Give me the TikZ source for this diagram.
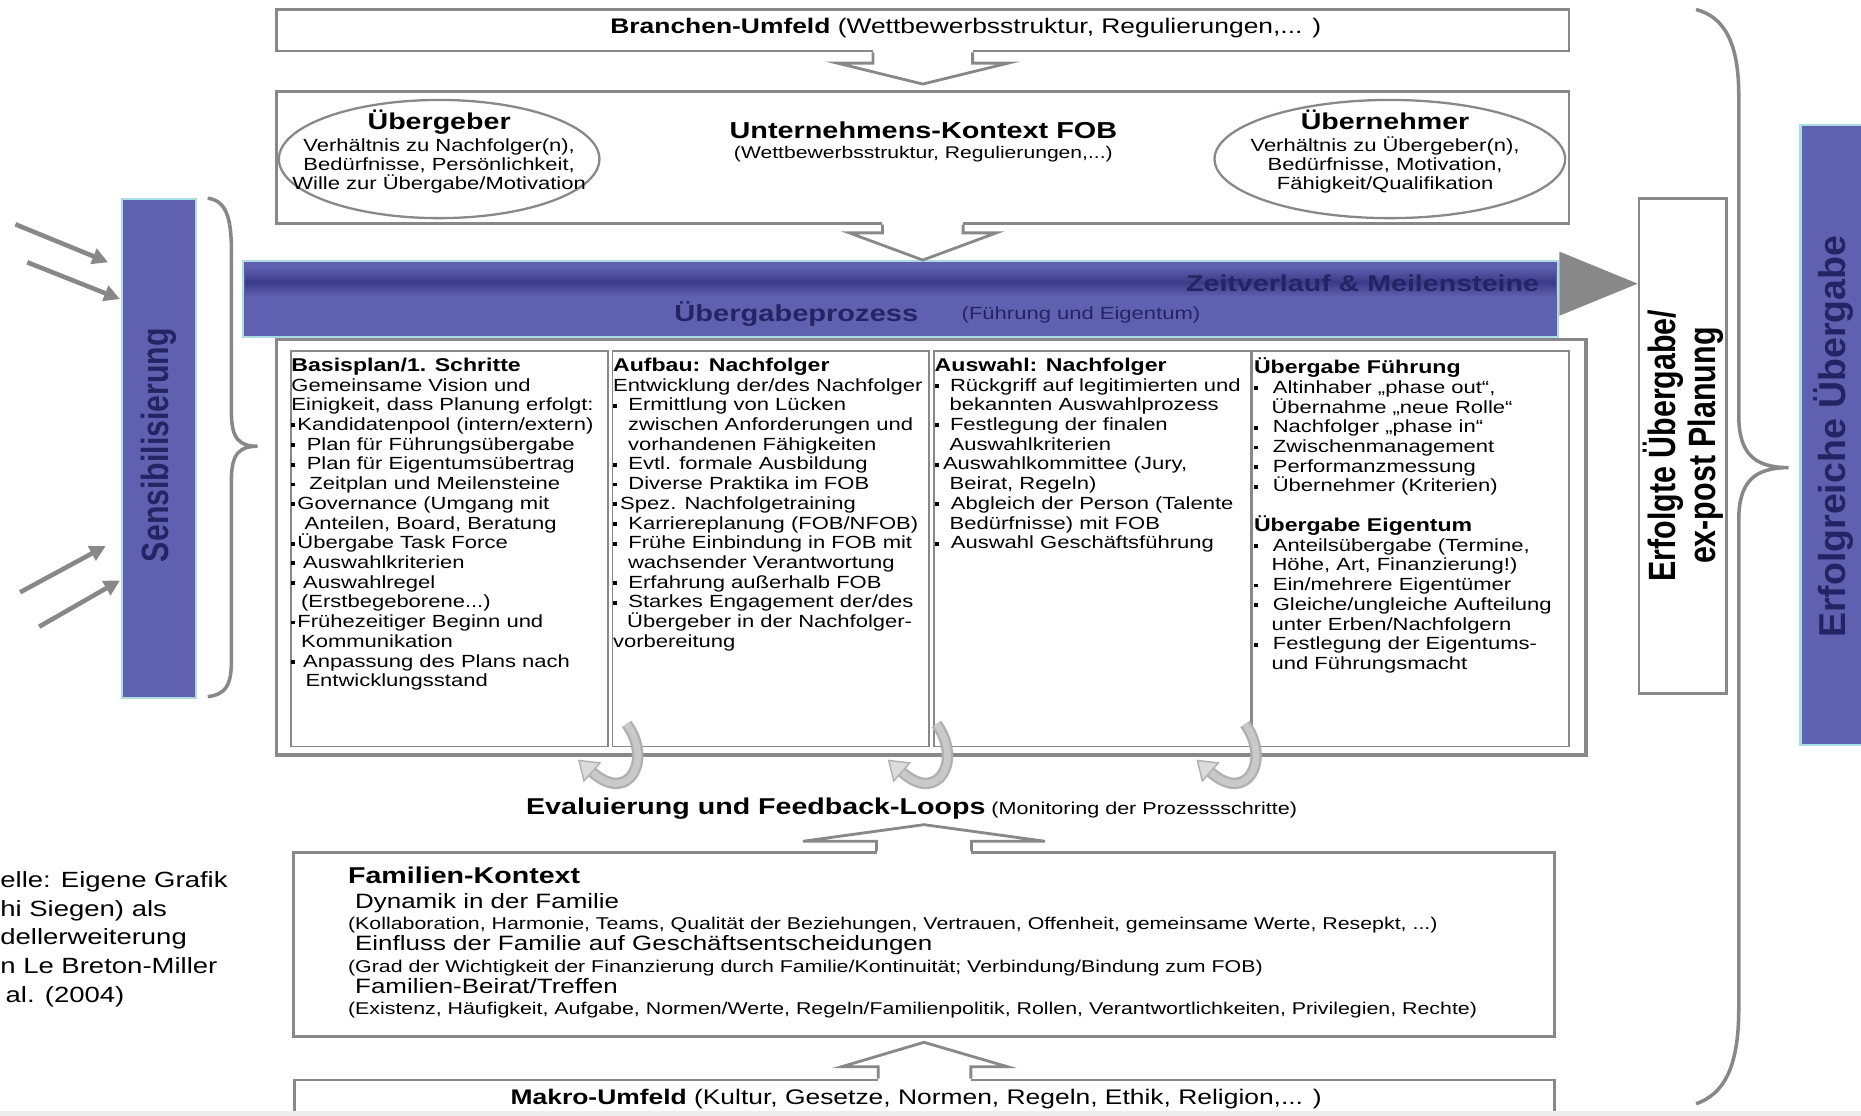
\documentclass[tikz,border=0pt]{standalone}
\usepackage{fontspec}
\setmainfont{Liberation Sans}
\newfontfamily\wide[FakeStretch=1.25]{Liberation Sans}
\newfontfamily\tall[FakeStretch=0.8]{Liberation Sans}
\usetikzlibrary{arrows.meta,calc,fit,shapes.geometric}

\definecolor{linegray}{RGB}{136,136,136}
\definecolor{barblue}{RGB}{96,96,176}
\definecolor{bandblue}{RGB}{58,58,136}
\definecolor{barrim}{RGB}{170,220,226}
\definecolor{navy}{RGB}{36,36,100}

\newcommand\fsz[2]{\fontsize{#1}{#2}\selectfont}
\newcommand\coltitle[1]{{\bfseries\fsz{10.5}{11.2}#1}}
\newcommand\blt[1]{\rule[1.8pt]{2.2pt}{2.2pt}\hspace{#1}}
\newcommand\indt[1]{\hspace*{#1}}
\newcommand\blockarrow[5]{%
  \fill[white] ($(#1)+(-#3,-3)$) rectangle ($(#1)+(#3,3)$);
  \draw[boxline,line join=miter] ($(#1)+(-#3,0)$) -- ++(0,#5) -- ++(#3-#4,0) -- (#2)
    -- ($(#1)+(#4,#5)$) -- ++(#3-#4,0) -- ($(#1)+(#3,0)$);}

\begin{document}
\begin{tikzpicture}[x=0.0237cm,y=-0.0237cm,
  boxline/.style={draw=linegray,line width=1.6pt},
  box/.style={boxline,inner sep=0pt},
  colbox/.style={draw=linegray,line width=1pt,inner sep=0pt},
  coltext/.style={anchor=north west,inner sep=0pt,align=left,font=\wide\fsz{10}{11.2}},
  bluebar/.style={fill=barblue,draw=barrim,line width=1.2pt,inner sep=0pt},
  inarrow/.style={draw=linegray,line width=2.6pt,-{Triangle[length=9pt,width=9pt]}},
  bracket/.style={draw=linegray,line width=2pt},
  loopout/.style={draw=gray!62,line width=6.5pt,-{Triangle[length=11pt,width=15pt,fill=gray!28,line width=.8pt]}},
  loopin/.style={draw=gray!42,line width=3.8pt,shorten >=11pt},
  txt/.style={inner sep=0pt}]
\useasboundingbox (0,0) rectangle (1568,940);

\node[box,fit={(233,8) (1322,43)}] (branchen) {};
\node[box,fit={(233,77) (1322,188)}] (kontext) {};
\node[box,fit={(247,718) (1310,873)}] (familie) {};
\node[box,fit={(248,910) (1310,960)}] (makro) {};
\node[box,fit={(1381,167) (1455,584)}] (erfolgt) {};
\node[draw=linegray,line width=2.2pt,inner sep=0pt,fit={(233,286) (1336,636)}] (frame) {};
\foreach \i/\x in {1/245,2/516,3/787,4/1055}
  \node[colbox,fit={(\x,296) (\x+267,629)}] (col\i) {};

\node[bluebar,fit={(103,168) (165,588)}] (sensib) {};
\node[bluebar,fit={(1517,105) (1580,628)}] (erfolgreich) {};
\node[bluebar,fit={(205,220) (1313,284)}] (prozess) {};
\shade[top color=barblue,bottom color=barblue,middle color=bandblue] (207,225) rectangle (1311,250);
\fill[linegray] (prozess.east |- 0,212) -- (erfolgt.west |- 0,239) -- (prozess.east |- 0,266) -- cycle;

\node[ellipse,boxline,line width=1.3pt,minimum width=6.4cm,minimum height=2.36cm,inner sep=0pt] (geber) at (370,134) {};
\node[ellipse,boxline,line width=1.3pt,minimum width=7.0cm,minimum height=2.36cm,inner sep=0pt] (nehmer) at (1171,134) {};

\node[txt,anchor=west,font=\wide\fsz{12}{14}] (branchentxt) at (514,24) {\textbf{Branchen-Umfeld} (Wettbewerbsstruktur, Regulierungen,... )};
\node[txt,font=\wide\bfseries\fsz{13.1}{15}] (kontexttxt) at (778,110) {Unternehmens-Kontext FOB};
\node[txt,font=\wide\fsz{9.6}{11}] (kontextsub) at (778,130) {(Wettbewerbsstruktur, Regulierungen,...)};
\node[txt,anchor=north,align=center,font=\wide\fsz{10}{11}] (gebertxt) at (370,92)
  {{\bfseries\fsz{13}{14}Übergeber}\\[1.5pt]Verhältnis zu Nachfolger(n),\\Bedürfnisse, Persönlichkeit,\\Wille zur Übergabe/Motivation};
\node[txt,anchor=north,align=center,font=\wide\fsz{10}{11}] (nehmertxt) at (1167,92)
  {{\bfseries\fsz{13}{14}Übernehmer}\\[1.5pt]Verhältnis zu Übergeber(n),\\Bedürfnisse, Motivation,\\Fähigkeit/Qualifikation};

\node[txt,anchor=east,font=\wide\bfseries\fsz{13}{15},text=navy] (zeittxt) at (1297,239) {Zeitverlauf \& Meilensteine};
\node[txt,anchor=west,font=\wide\bfseries\fsz{13.2}{15},text=navy] (prozesstxt) at (568,265) {Übergabeprozess};
\node[txt,anchor=west,font=\wide\fsz{10}{12},text=navy] (prozesssub) at (810,265) {(Führung und Eigentum)};

\node[txt,rotate=90,font=\tall\bfseries\fsz{21.5}{24},text=navy] (sensibtxt) at (134,375) {Sensibilisierung};
\node[txt,rotate=90,font=\bfseries\fsz{21.3}{24},text=navy] (erfolgreichtxt) at (1545,368) {Erfolgreiche Übergabe};
\node[txt,rotate=90,align=center,font=\tall\bfseries\fsz{21.6}{22.5}] (erfolgttxt) at (erfolgt) {Erfolgte Übergabe/\\ex-post Planung};

\node[coltext] (txt1) at ([shift={(1,6)}]col1.north west) {\coltitle{Basisplan/1. Schritte}\\
  Gemeinsame Vision und\\
  Einigkeit, dass Planung erfolgt:\\
  \blt{1.2pt}Kandidatenpool (intern/extern)\\
  \blt{6.5pt}Plan für Führungsübergabe\\
  \blt{6.5pt}Plan für Eigentumsübertrag\\
  \blt{8pt}Zeitplan und Meilensteine\\
  \blt{1.2pt}Governance (Umgang mit\\
  \indt{7.5pt}Anteilen, Board, Beratung\\
  \blt{1.2pt}Übergabe Task Force\\
  \blt{4.5pt}Auswahlkriterien\\
  \blt{4.5pt}Auswahlregel\\
  \indt{5.5pt}(Erstbegeborene...)\\
  \blt{1.2pt}Frühezeitiger Beginn und\\
  \indt{5.5pt}Kommunikation\\
  \blt{4.5pt}Anpassung des Plans nach\\
  \indt{8pt}Entwicklungsstand};
\node[coltext] (txt2) at ([shift={(1,6)}]col2.north west) {\coltitle{Aufbau: Nachfolger}\\
  Entwicklung der/des Nachfolger\\
  \blt{6.5pt}Ermittlung von Lücken\\
  \indt{8.5pt}zwischen Anforderungen und\\
  \indt{8.5pt}vorhandenen Fähigkeiten\\
  \blt{6.5pt}Evtl. formale Ausbildung\\
  \blt{6.5pt}Diverse Praktika im FOB\\
  \blt{1.8pt}Spez. Nachfolgetraining\\
  \blt{6.5pt}Karriereplanung (FOB/NFOB)\\
  \blt{6.5pt}Frühe Einbindung in FOB mit\\
  \indt{8.5pt}wachsender Verantwortung\\
  \blt{6.5pt}Erfahrung außerhalb FOB\\
  \blt{6.5pt}Starkes Engagement der/des\\
  \indt{8pt}Übergeber in der Nachfolger-\\
  vorbereitung};
\node[coltext] (txt3) at ([shift={(1,6)}]col3.north west) {\coltitle{Auswahl: Nachfolger}\\
  \blt{6.5pt}Rückgriff auf legitimierten und\\
  \indt{8.5pt}bekannten Auswahlprozess\\
  \blt{6.5pt}Festlegung der finalen\\
  \indt{8.5pt}Auswahlkriterien\\
  \blt{2.5pt}Auswahlkommittee (Jury,\\
  \indt{8.5pt}Beirat, Regeln)\\
  \blt{7pt}Abgleich der Person (Talente\\
  \indt{8.5pt}Bedürfnisse) mit FOB\\
  \blt{7pt}Auswahl Geschäftsführung};
\node[coltext] (txt4) at ([shift={(2,6)}]col4.north west) {\coltitle{Übergabe Führung}\\
  \blt{8.5pt}Altinhaber „phase out“,\\
  \indt{10pt}Übernahme „neue Rolle“\\
  \blt{8.5pt}Nachfolger „phase in“\\
  \blt{8.5pt}Zwischenmanagement\\
  \blt{8.5pt}Performanzmessung\\
  \blt{8.5pt}Übernehmer (Kriterien)\\[11.2pt]
  \coltitle{Übergabe Eigentum}\\
  \blt{8.5pt}Anteilsübergabe (Termine,\\
  \indt{10pt}Höhe, Art, Finanzierung!)\\
  \blt{8.5pt}Ein/mehrere Eigentümer\\
  \blt{8.5pt}Gleiche/ungleiche Aufteilung\\
  \indt{10pt}unter Erben/Nachfolgern\\
  \blt{8.5pt}Festlegung der Eigentums-\\
  \indt{10pt}und Führungsmacht};

\foreach \t in {528,789,1049}{
  \draw[loopout] (\t,610) .. controls (\t+22,640) and (\t+2,678) .. (\t-41,640);
  \draw[loopin] (\t,610) .. controls (\t+22,640) and (\t+2,678) .. (\t-41,640);
}

\node[txt,anchor=west,font=\wide\fsz{9.8}{12}] (evaltxt) at (443,681)
  {{\bfseries\fsz{13}{15}Evaluierung und Feedback-Loops} (Monitoring der Prozessschritte)};
\node[txt,anchor=north west,align=left,font=\wide\fsz{9.7}{12.1}] (familietxt) at (293,730)
  {{\bfseries\fsz{13}{15}Familien-Kontext}\\[2pt]
  \indt{4pt}{\fsz{11.8}{12.1}Dynamik in der Familie}\\
  (Kollaboration, Harmonie, Teams, Qualität der Beziehungen, Vertrauen, Offenheit, gemeinsame Werte, Resepkt, ...)\\
  \indt{4pt}{\fsz{11.8}{12.1}Einfluss der Familie auf Geschäftsentscheidungen}\\
  (Grad der Wichtigkeit der Finanzierung durch Familie/Kontinuität; Verbindung/Bindung zum FOB)\\
  \indt{4pt}{\fsz{11.8}{12.1}Familien-Beirat/Treffen}\\
  (Existenz, Häufigkeit, Aufgabe, Normen/Werte, Regeln/Familienpolitik, Rollen, Verantwortlichkeiten, Privilegien, Rechte)};
\node[txt,anchor=west,font=\wide\fsz{12}{14}] (makrotxt) at (430,926)
  {\textbf{Makro-Umfeld} (Kultur, Gesetze, Normen, Regeln, Ethik, Religion,... )};
\node[txt,anchor=north west,align=left,font=\wide\fsz{12.5}{16.3}] (quelle) at (0,734)
  {elle: Eigene Grafik\\hi Siegen) als\\dellerweiterung\\n Le Breton-Miller\\\indt{3pt}al. (2004)};

\blockarrow{branchen.south}{$(kontext.north)+(0,-5)$}{42}{72}{9}
\blockarrow{kontext.south}{kontext.south |- prozess.north}{34}{62}{7}
\blockarrow{familie.north}{$(familie.north)+(0,-22)$}{40}{102}{-8}
\blockarrow{makro.north}{$(familie.south)+(0,4)$}{39}{70}{-10}

\foreach \sx/\sy/\ty/\gap in {13/189/221/11,23/221/252/1,17/499/460/13,33/528/489/1}
  \draw[inarrow] (\sx,\sy) -- ($(sensib.west |- 0,\ty)+(-\gap,0)$);

\draw[bracket] (175,167) .. controls (190,169) and (195,182) .. (195,212) -- (195,348)
  .. controls (195,370) and (202,376) .. (217,376) .. controls (202,376) and (195,382) .. (195,404)
  -- (195,556) .. controls (195,578) and (190,585) .. (175,587);
\draw[bracket] (1429,8) .. controls (1452,14) and (1465,35) .. (1465,80) -- (1465,350)
  .. controls (1465,382) and (1478,394) .. (1507,394) .. controls (1478,394) and (1465,406) .. (1465,438)
  -- (1465,850) .. controls (1465,900) and (1452,922) .. (1429,930);

\fill[gray!14] (0,936) rectangle (1568,940);
\end{tikzpicture}
\end{document}
